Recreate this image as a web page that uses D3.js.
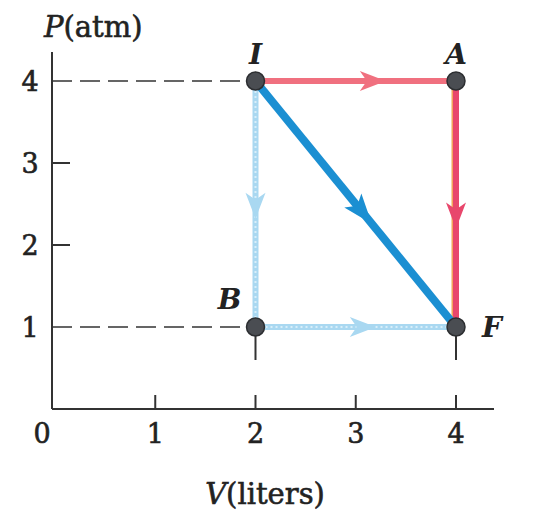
<!DOCTYPE html>
<html>
<head>
<meta charset="utf-8">
<script src="https://cdn.jsdelivr.net/npm/d3@7"></script>
<style>
  body { margin: 0; background: #fff; }
  svg { display: block; }
  text { font-family: "DejaVu Serif", "Liberation Serif", serif; fill: #222; stroke: #222; stroke-width: 0.6; }
</style>
</head>
<body>
<svg width="533" height="532"></svg>
<script>
'use strict';

// states of the gas on the P-V diagram
const stateNames = ["I", "A", "B", "F"];
const stateV = [2, 4, 2, 4];   // liters
const stateP = [4, 4, 1, 1];   // atm

const xTicks = [0, 1, 2, 3, 4];
const yTicks = [1, 2, 3, 4];

// processes: [from, to, colour kind, arrow position along segment]
const segments = [
	["I", "B", "light", 0.56],
	["B", "F", "light", 0.6],
	["I", "A", "pink", 0.65],
	["A", "F", "red", 0.6],
	["I", "F", "blue", 0.58]
];

const colors = {
	light: "#a9d8f1",
	pink: "#f0707f",
	red: "#e8476c",
	blue: "#1b8fd2"
};

const svg = d3.select("svg");

const x = d3.scaleLinear().domain([0, 4]).range([55, 456]);
const y = d3.scaleLinear().domain([0, 4]).range([409, 81]);

const states = stateNames.map((n, i) => ({name: n, v: stateV[i], p: stateP[i]}));
const byName = {};
states.forEach(d => { byName[d.name] = d; });

// axes (drawn by hand: ticks point inwards)
const axis = svg.append("g").attr("stroke", "#333").attr("stroke-width", 2);
axis.append("line")
	.attr("x1", 52).attr("x2", 52)
	.attr("y1", y(4) - 29).attr("y2", 409);
axis.append("line")
	.attr("x1", 52).attr("x2", 494)
	.attr("y1", 409).attr("y2", 409);

axis.selectAll(".xt").data(xTicks.filter(d => d > 0)).enter().append("line")
	.attr("x1", d => x(d)).attr("x2", d => x(d))
	.attr("y1", 409).attr("y2", 395);
axis.selectAll(".yt").data([2, 3]).enter().append("line")
	.attr("x1", 52).attr("x2", 70)
	.attr("y1", d => y(d)).attr("y2", d => y(d));

svg.selectAll(".xl").data(xTicks).enter().append("text")
	.attr("x", d => d === 0 ? 42 : x(d))
	.attr("y", 443)
	.attr("text-anchor", "middle")
	.attr("font-size", 27)
	.text(d => d);

svg.selectAll(".yl").data(yTicks).enter().append("text")
	.attr("x", 30)
	.attr("y", d => y(d) + 10)
	.attr("text-anchor", "middle")
	.attr("font-size", 27)
	.text(d => d);

// axis titles
const pt = svg.append("text").attr("x", 44).attr("y", 37).attr("font-size", 29);
pt.append("tspan").attr("font-style", "italic").text("P");
pt.append("tspan").text("(atm)");

const vt = svg.append("text").attr("x", 265).attr("y", 504)
	.attr("text-anchor", "middle").attr("font-size", 29);
vt.append("tspan").attr("font-style", "italic").text("V");
vt.append("tspan").text("(liters)");

// dashed guides to the axis
svg.selectAll(".guide").data([byName.I, byName.B]).enter().append("line")
	.attr("x1", 52).attr("x2", d => x(d.v))
	.attr("y1", d => y(d.p)).attr("y2", d => y(d.p))
	.attr("stroke", "#333").attr("stroke-width", 1.6)
	.attr("stroke-dasharray", "20,8");

// short drop lines under B and F
svg.selectAll(".drop").data([byName.B, byName.F]).enter().append("line")
	.attr("x1", d => x(d.v)).attr("x2", d => x(d.v))
	.attr("y1", d => y(d.p)).attr("y2", d => y(d.p) + 33)
	.attr("stroke", "#333").attr("stroke-width", 2);

// process paths
const segG = svg.append("g");
segments.forEach(s => {
	const a = byName[s[0]], b = byName[s[1]];
	const w = s[2] === "blue" ? 8 : 6;
	if (s[2] === "red") {
		segG.append("line")
			.attr("x1", x(a.v) - 2).attr("x2", x(b.v) - 2)
			.attr("y1", y(a.p)).attr("y2", y(b.p))
			.attr("stroke", "#f3a45a").attr("stroke-width", 5);
	}
	segG.append("line")
		.attr("x1", x(a.v)).attr("x2", x(b.v))
		.attr("y1", y(a.p)).attr("y2", y(b.p))
		.attr("stroke", colors[s[2]])
		.attr("stroke-width", w);
	if (s[2] === "light") {
		segG.append("line")
			.attr("x1", x(a.v)).attr("x2", x(b.v))
			.attr("y1", y(a.p)).attr("y2", y(b.p))
			.attr("stroke", "#d8eefa").attr("stroke-width", 2)
			.attr("stroke-dasharray", "2,3");
	}
});

// arrowheads
segments.forEach(s => {
	const a = byName[s[0]], b = byName[s[1]];
	const x0 = x(a.v), y0 = y(a.p), x1 = x(b.v), y1 = y(b.p);
	const tx = x0 + (x1 - x0) * s[3], ty = y0 + (y1 - y0) * s[3];
	const ang = Math.atan2(y1 - y0, x1 - x0) * 180 / Math.PI;
	const big = s[2] === "blue";
	const len = big ? 30 : 26, half = big ? 11 : 10;
	svg.append("path")
		.attr("d", `M0,0 L${-len},${-half} L${-len + 7},0 L${-len},${half} Z`)
		.attr("transform", `translate(${tx},${ty}) rotate(${ang})`)
		.attr("fill", colors[s[2]]);
});

// state points
svg.selectAll(".pt").data(states).enter().append("circle")
	.attr("cx", d => x(d.v)).attr("cy", d => y(d.p))
	.attr("r", 9)
	.attr("fill", "#4a4d52")
	.attr("stroke", "#2c2e31").attr("stroke-width", 1.5);

const labelPos = {I: [0, -17], A: [0, -17], B: [-26, -18], F: [36, 10]};
svg.selectAll(".sl").data(states).enter().append("text")
	.attr("x", d => x(d.v) + labelPos[d.name][0])
	.attr("y", d => y(d.p) + labelPos[d.name][1])
	.attr("text-anchor", "middle")
	.attr("font-size", 28)
	.attr("font-style", "italic")
	.attr("font-weight", "bold")
	.style("stroke-width", 0)
	.text(d => d.name);
</script>
</body>
</html>
